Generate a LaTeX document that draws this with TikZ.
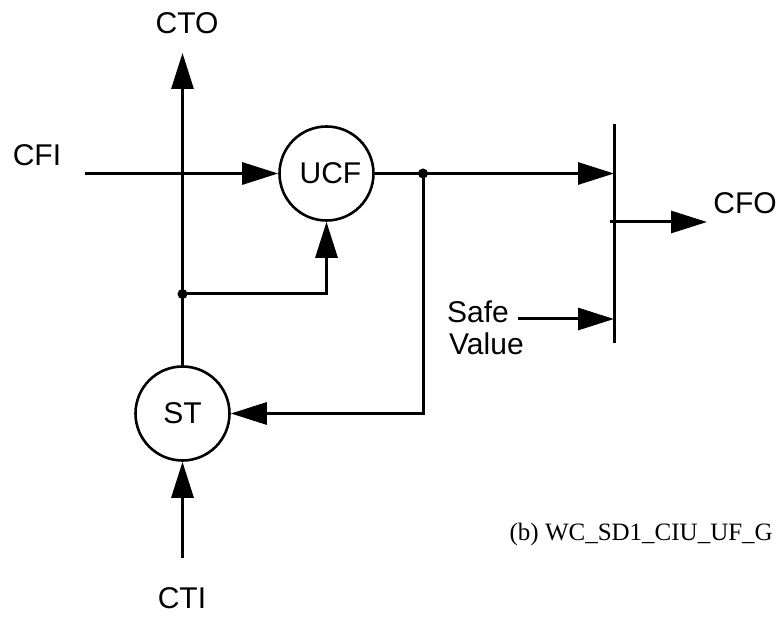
\documentclass[tikz,border=0pt]{standalone}
\usepackage{fontspec}
\setmainfont{Liberation Sans}
\newfontfamily\capfont{Liberation Serif}
\usetikzlibrary{arrows.meta}
\begin{document}
\begin{tikzpicture}[x=1pt,y=-1pt,
  wire/.style={line width=3pt},
  arr/.style={wire,-{Triangle[length=36pt,width=22pt]}},
  proc/.style={circle,draw,line width=2.6pt,minimum size=94pt,inner sep=0pt,font=\fontsize{30}{33}\selectfont},
  lbl/.style={font=\fontsize{30}{33}\selectfont,inner sep=0pt},
  jdot/.style={circle,fill,minimum size=10pt,inner sep=0pt}]
\useasboundingbox (0,0) rectangle (782,617);
\node[proc] (ucf) at (326.5,173.5) {\hspace*{8pt}UCF};
\node[proc] (st) at (182.5,413.5) {ST};
\node[jdot] (d1) at (423,173.5) {};
\node[jdot] (d2) at (182.5,294) {};
\node[lbl] (cto) at (187,23) {CTO};
\node[lbl] (cfi) at (37,155) {CFI};
\node[lbl] (cfo) at (745,203) {CFO};
\node[lbl] (cti) at (182,598) {CTI};
\node[lbl,anchor=base west] (safe) at (447,323) {Safe};
\node[lbl,anchor=base west] (value) at (449,355) {Value};
\node[font=\capfont\fontsize{25}{28}\selectfont,anchor=base east,inner sep=0pt] (cap) at (773,540) {(b) WC\_SD1\_CIU\_UF\_G};
\coordinate (ctotip) at (182.5,53);
\coordinate (cfis) at (85,173.5);
\coordinate (bartop) at (614,124);
\coordinate (barbot) at (614,343);
\coordinate (b1) at (614,173.5);
\coordinate (b2) at (614,319);
\coordinate (b3) at (610,222);
\coordinate (cfotip) at (707,222);
\coordinate (safes) at (518,319);
\coordinate (ctis) at (182.5,558);
\draw[wire] (bartop) -- (barbot);
\draw[arr] (st.north) -- (ctotip);
\draw[arr] (cfis) -- (ucf.west);
\draw[arr] (ucf.east) -- (b1);
\draw[arr] (b3) -- (cfotip);
\draw[arr] (safes) -- (b2);
\draw[arr] (d2.center) -| (ucf.south);
\draw[arr] (d1.center) |- (st.east);
\draw[arr] (ctis) -- (st.south);
\end{tikzpicture}
\end{document}
